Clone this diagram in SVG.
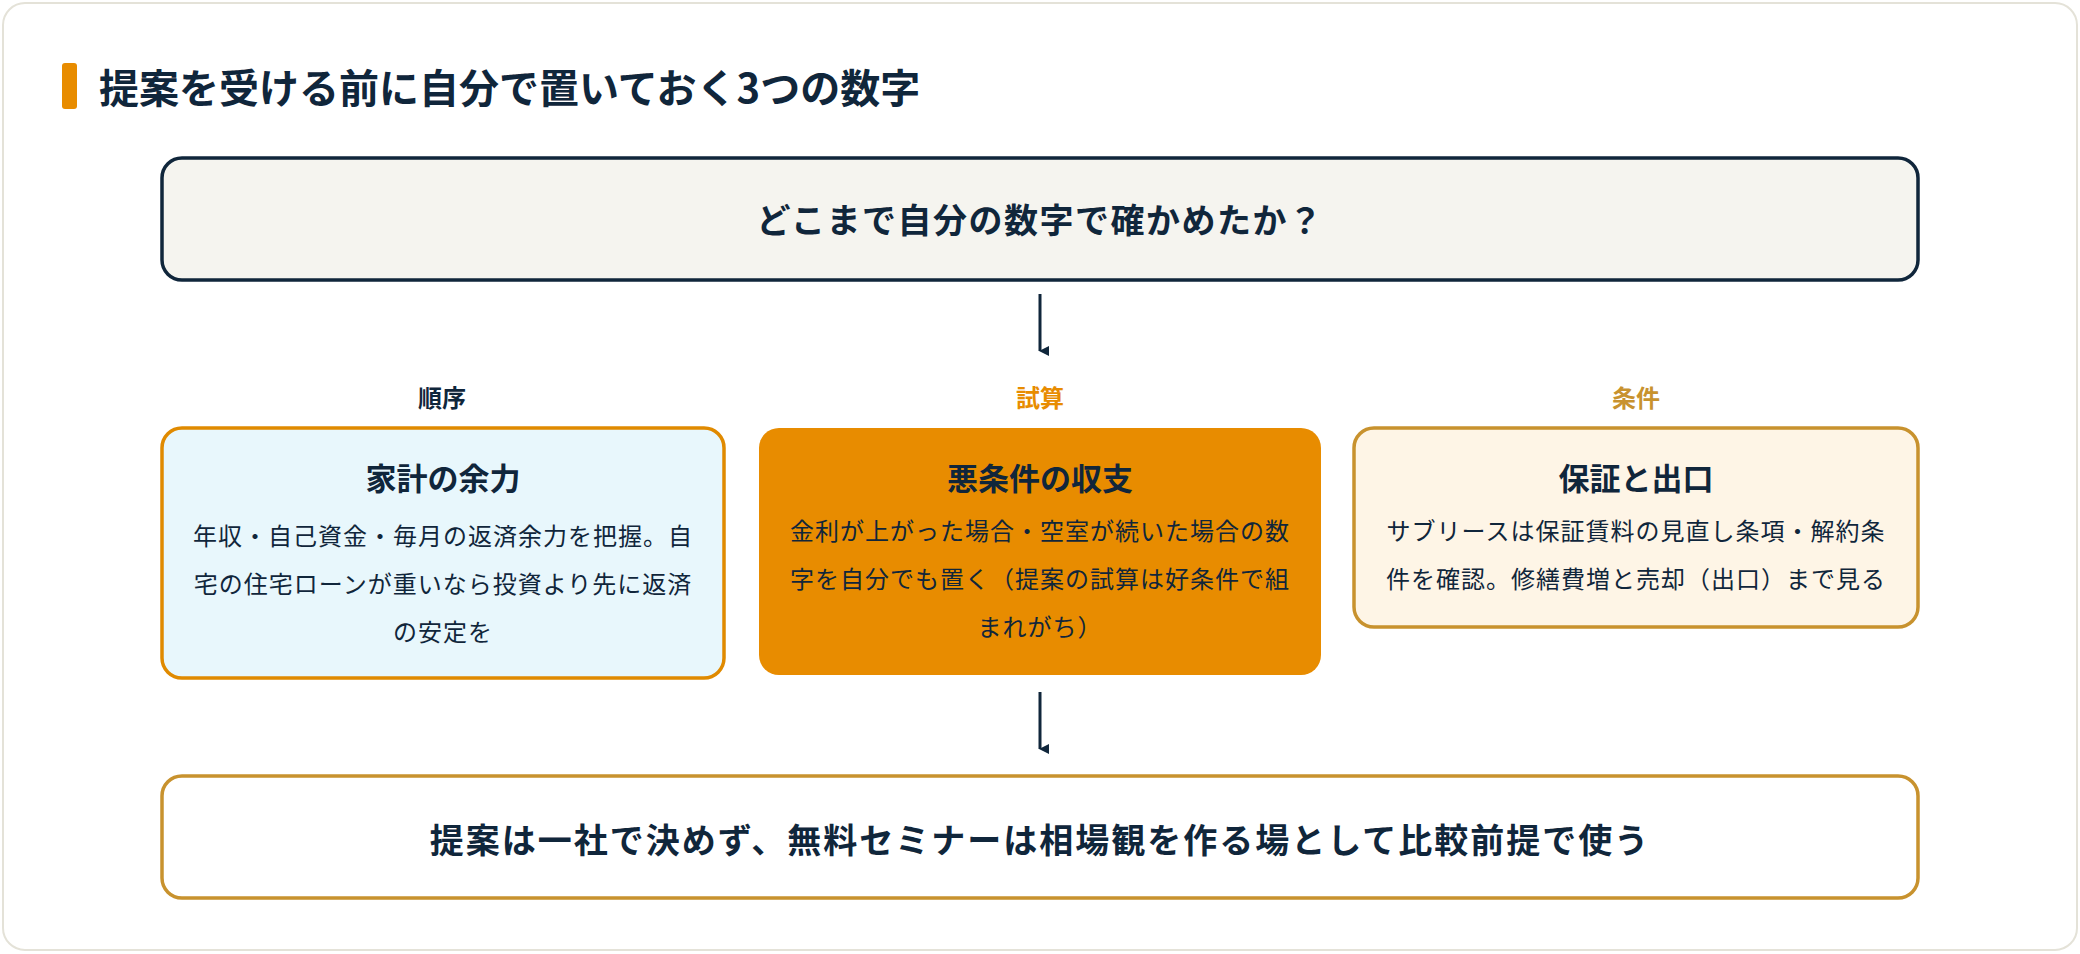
<svg xmlns="http://www.w3.org/2000/svg" width="2080" height="954" viewBox="0 0 2080 954">
<style>
text{font-family:"Noto Sans CJK JP","Noto Sans",sans-serif;text-anchor:middle;}
.h{font-weight:700;fill:#10263b;}
.b{font-size:24px;fill:#10263b;letter-spacing:1px;}
.lab{font-size:24px;font-weight:700;}
</style>
<defs>
<marker id="ah" markerWidth="10" markerHeight="10" refX="5" refY="9" orient="auto" markerUnits="userSpaceOnUse" viewBox="0 0 10 10"><path d="M0,0 L10,0 L5,10 Z" fill="#10263b"/></marker>
</defs>
<rect x="3" y="3" width="2074" height="947" rx="22" fill="#fff" stroke="#e4e2d8" stroke-width="2"/>
<g id="title">
<rect x="62" y="63" width="15" height="46" rx="3" fill="#e88c00"/>
<text x="99" y="103" class="h" style="font-size:40px;text-anchor:start">提案を受ける前に自分で置いておく3つの数字</text>
</g>
<g id="top">
<rect x="162" y="158" width="1756" height="122" rx="20" fill="#f5f4ef" stroke="#10263b" stroke-width="3.5"/>
<text x="1040" y="233" class="h" style="font-size:34px" letter-spacing="1.5">どこまで自分の数字で確かめたか？</text>
</g>
<g id="labels">
<text x="442" y="407" class="lab" fill="#10263b">順序</text>
<text x="1040" y="407" class="lab" fill="#e88c00">試算</text>
<text x="1636" y="407" class="lab" fill="#c8922e">条件</text>
</g>
<g id="n1">
<rect x="162" y="428" width="562" height="250" rx="20" fill="#e8f7fc" stroke="#e08a00" stroke-width="3.5"/>
<text x="443" y="490" class="h" style="font-size:31px">家計の余力</text>
<text x="443" y="545" class="b">年収・自己資金・毎月の返済余力を把握。自</text>
<text x="443" y="593" class="b">宅の住宅ローンが重いなら投資より先に返済</text>
<text x="443" y="641" class="b">の安定を</text>
</g>
<g id="n2">
<rect x="759" y="428" width="562" height="247" rx="20" fill="#e88c00"/>
<text x="1040" y="490" class="h" style="font-size:31px">悪条件の収支</text>
<text x="1040" y="540" class="b">金利が上がった場合・空室が続いた場合の数</text>
<text x="1040" y="588" class="b">字を自分でも置く（提案の試算は好条件で組</text>
<text x="1040" y="636" class="b">まれがち）</text>
</g>
<g id="n3">
<rect x="1354" y="428" width="564" height="199" rx="20" fill="#fef5e6" stroke="#c8922e" stroke-width="3.5"/>
<text x="1636" y="490" class="h" style="font-size:31px">保証と出口</text>
<text x="1636" y="540" class="b">サブリースは保証賃料の見直し条項・解約条</text>
<text x="1636" y="588" class="b">件を確認。修繕費増と売却（出口）まで見る</text>
</g>
<g id="bottom">
<rect x="162" y="776" width="1756" height="122" rx="20" fill="#fff" stroke="#c8922e" stroke-width="3.5"/>
<text x="1040" y="853" class="h" style="font-size:34px" letter-spacing="2">提案は一社で決めず、無料セミナーは相場観を作る場として比較前提で使う</text>
</g>
<g id="connectors" stroke="#10263b" stroke-width="3" fill="none">
<line x1="1040" y1="294" x2="1040" y2="351" marker-end="url(#ah)"/>
<line x1="1040" y1="692" x2="1040" y2="749" marker-end="url(#ah)"/>
</g>
</svg>
